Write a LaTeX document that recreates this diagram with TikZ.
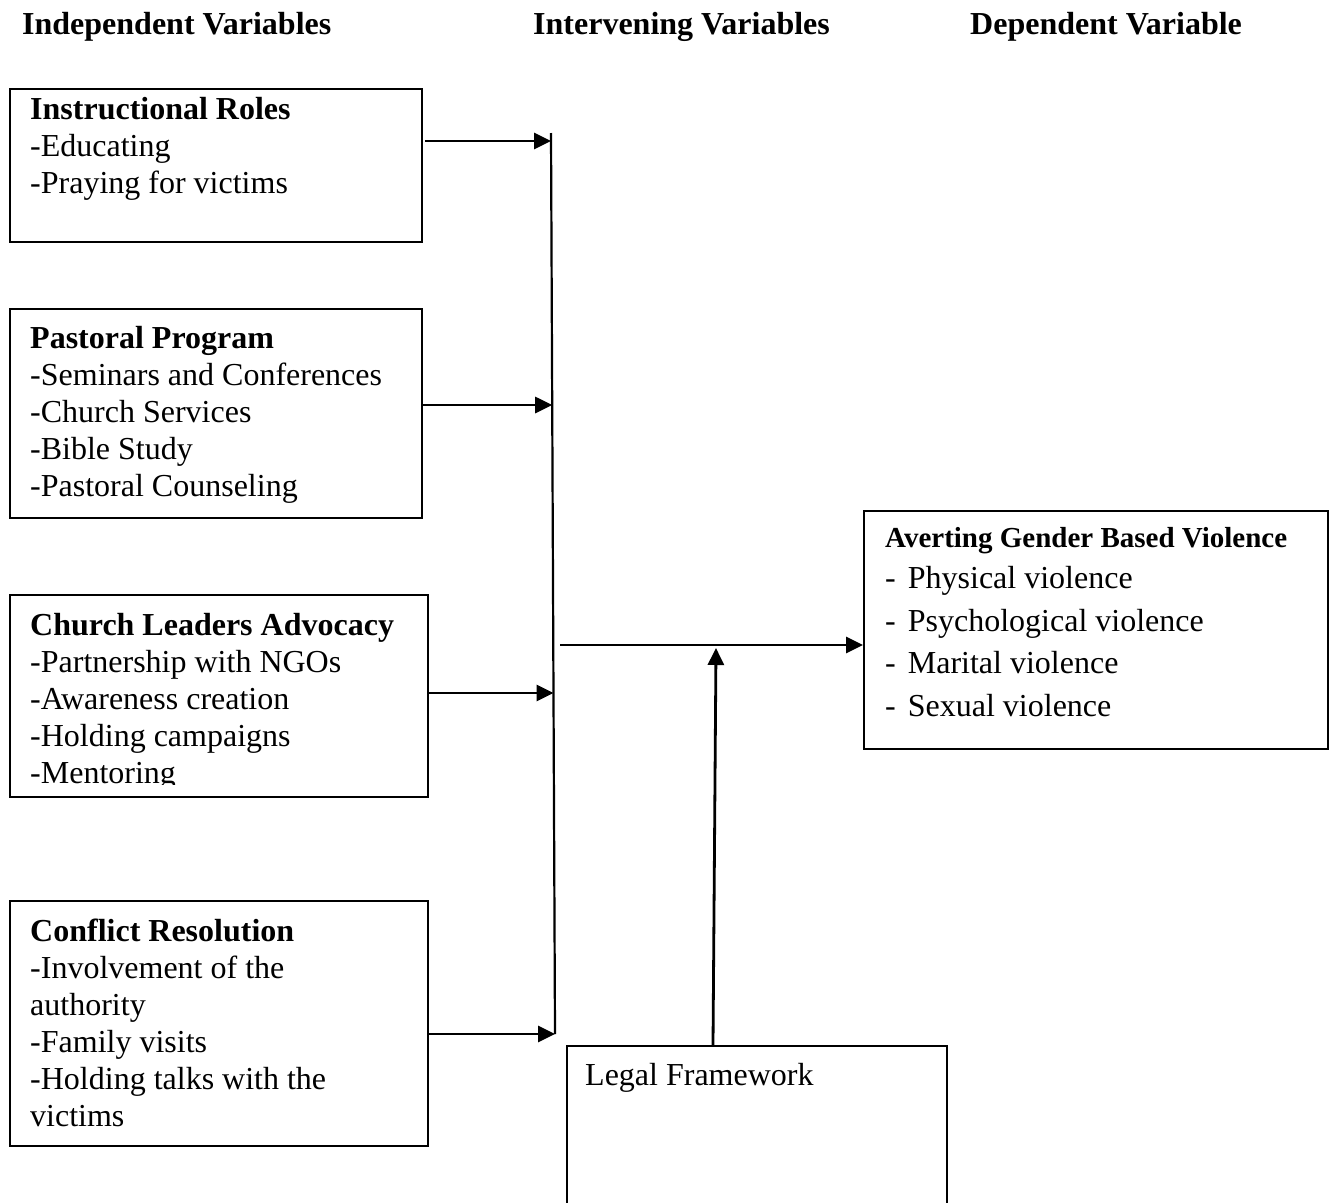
\documentclass[tikz,border=0pt]{standalone}
\usepackage{fontspec}
\setmainfont{Liberation Serif}
\usetikzlibrary{arrows.meta}
\begin{document}
\begin{tikzpicture}[x=1pt,y=-1pt,
 box/.style={draw, line width=1.8pt, inner sep=0pt, anchor=north west},
 txt/.style={anchor=north west, inner sep=0pt, align=left, font=\fontsize{32}{37}\selectfont},
 hdr/.style={anchor=base west, inner sep=0pt, font=\fontsize{32}{37}\selectfont\bfseries},
 arr/.style={line width=2.8pt, -{Triangle[length=17pt,width=16pt]}},
 conn/.style={line width=2.2pt}]
\useasboundingbox (0,0) rectangle (1333,1202);
\clip (0,0) rectangle (1333,1202);
% headers
\node[hdr] (h1) at (22,34) {Independent Variables};
\node[hdr] (h2) at (533,34) {Intervening Variables};
\node[hdr] (h3) at (970,34) {Dependent Variable};
% boxes
\node[box, minimum width=412pt, minimum height=153pt] (b1) at (9,88) {};
\node[box, minimum width=412pt, minimum height=209pt] (b2) at (9,308) {};
\node[box, minimum width=418pt, minimum height=202pt] (b3) at (9,594) {};
\node[box, minimum width=418pt, minimum height=245pt] (b4) at (9,900) {};
\node[box, minimum width=464pt, minimum height=238pt] (av) at (863,510) {};
\node[box, minimum width=380pt, minimum height=200pt] (lf) at (566,1045) {};
% texts
\node[txt] (t1) at (30,97) {\textbf{Instructional Roles}\\-Educating\\-Praying for victims};
\node[txt] (t2) at (30,326) {\textbf{Pastoral Program}\\-Seminars and Conferences\\-Church Services\\-Bible Study\\-Pastoral Counseling};
\begin{scope}
\clip (10,595) rectangle (426,784);
\node[txt] (t3) at (30,613) {\textbf{Church Leaders Advocacy}\\-Partnership with NGOs\\-Awareness creation\\-Holding campaigns\\-Mentoring};
\end{scope}
\node[txt] (t4) at (30,919) {\textbf{Conflict Resolution}\\-Involvement of the\\authority\\-Family visits\\-Holding talks with the\\victims};
\node[txt, font=\fontsize{32}{42.7}\selectfont] (tav) at (885,527) {{\fontsize{29}{29}\selectfont\bfseries Averting Gender Based Violence}\\[-1.5pt]-\hspace{12pt}Physical violence\\-\hspace{12pt}Psychological violence\\-\hspace{12pt}Marital violence\\-\hspace{12pt}Sexual violence};
\node[txt] (tlf) at (585,1063) {Legal Framework};
% connectors
\coordinate (vtop) at (551,133);
\coordinate (vbot) at (555,1034);
\draw[conn] (vtop) -- (vbot);
\coordinate (s1) at (425,141);
\coordinate (e1) at (551,141);
\coordinate (e2) at (552.2,405);
\coordinate (e3) at (553.5,693);
\draw[arr] (s1) -- (e1);
\draw[arr] (b2.east |- e2) -- (e2);
\draw[arr] (b3.east |- e3) -- (e3);
\draw[arr] (b4.east |- vbot) -- (vbot);
\coordinate (m1) at (560,645);
\draw[arr] (m1) -- (av.west |- m1);
\coordinate (lup) at (713,1045);
\coordinate (mtip) at (716,648);
\draw[arr] (lup) -- (mtip);
\end{tikzpicture}
\end{document}
